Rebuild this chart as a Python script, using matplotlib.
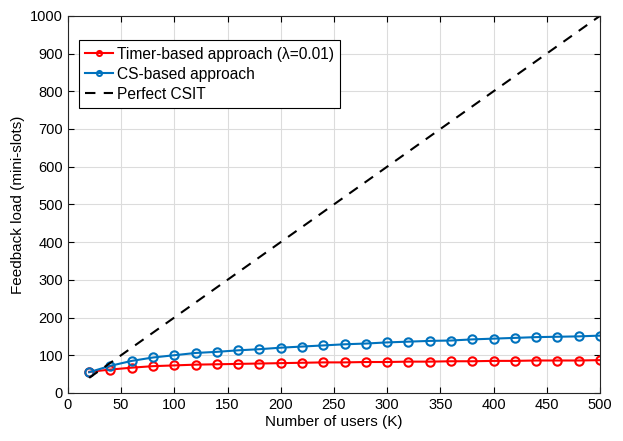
import matplotlib.pyplot as plt
import numpy as np

plt.rcParams['font.family'] = ['Liberation Sans', 'DejaVu Sans']

users = np.arange(20, 501, 20)
timer_load = [56, 62, 67, 71, 73, 75, 76, 77, 78, 79, 80, 81, 81, 82, 82,
              83, 83, 84, 84, 85, 85, 86, 86, 86, 87]
cs_load = [55, 72, 85, 94, 100, 106, 109, 113, 116, 120, 123, 126, 129, 131,
           134, 136, 138, 139, 142, 144, 146, 148, 149, 150, 152]
csit_users = [20, 500]
csit_load = [40, 1000]

fig = plt.figure(figsize=(6.23, 4.41), dpi=100)
ax = fig.add_axes([0.109, 0.109, 0.854, 0.855])

ax.plot(users, timer_load, '-o', color='#FF0000', lw=1.5, ms=6, mfc='none', mew=1.5,
        label='Timer-based approach (\u03bb=0.01)')
ax.plot(users, cs_load, '-o', color='#0072BD', lw=1.5, ms=6, mfc='none', mew=1.5,
        label='CS-based approach')
ax.plot(csit_users, csit_load, '--', color='black', lw=1.5, dashes=(5, 4),
        label='Perfect CSIT')

ax.set_xlim(0, 500)
ax.set_ylim(0, 1000)
ax.set_xticks(np.arange(0, 501, 50))
ax.set_yticks(np.arange(0, 1001, 100))
ax.grid(True, color='#dcdcdc', lw=0.8)
ax.set_axisbelow(True)
ax.tick_params(direction='in', top=True, right=True, labelsize=10.5, length=4)
for s in ax.spines.values():
    s.set_color('#262626')
    s.set_linewidth(0.8)
ax.set_xlabel('Number of users (K)', fontsize=11, labelpad=2)
ax.set_ylabel('Feedback load (mini-slots)', fontsize=11)

leg = ax.legend(loc='upper left', bbox_to_anchor=(0.02, 0.935), fontsize=11.2,
                fancybox=False, edgecolor='black', framealpha=1,
                handlelength=1.8, handletextpad=0.25, borderpad=0.4, labelspacing=0.32,
                markerscale=0.6, borderaxespad=0)
leg.get_frame().set_linewidth(0.8)

fig.savefig('out.png', dpi=100)
